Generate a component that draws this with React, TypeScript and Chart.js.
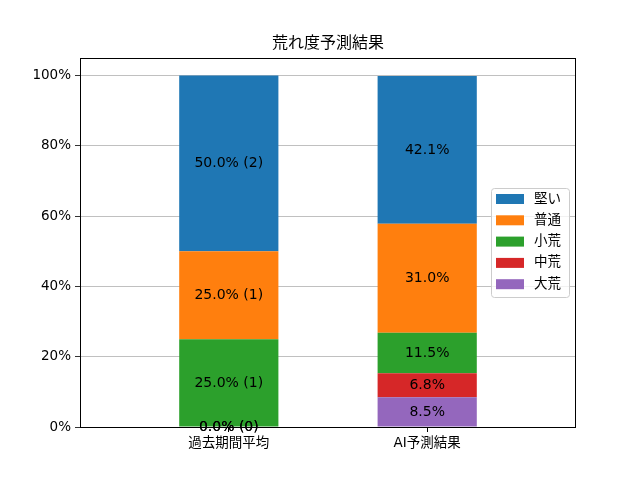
import React, { useEffect, useRef } from "react";
import Chart from "chart.js/auto";

const title = "荒れ度予測結果";
const categories = ["過去期間平均", "AI予測結果"];
// stacked bottom -> top
const seriesNames = ["大荒", "中荒", "小荒", "普通", "堅い"];
const pastValues = [0.0, 0.0, 25.0, 25.0, 50.0];
const pastCounts = [0, 0, 1, 1, 2];
const aiValues = [8.5, 6.8, 11.5, 31.0, 42.1];
const colors = ["#9467bd", "#d62728", "#2ca02c", "#ff7f0e", "#1f77b4"];
const yTicks = [0, 20, 40, 60, 80, 100];

const FONT = "'DejaVu Sans', 'Noto Sans CJK JP', sans-serif";

const overlayPlugin = {
  id: "overlay",
  afterDatasetsDraw(chart: any) {
    const ctx = chart.ctx;
    const area = chart.chartArea;
    ctx.save();

    // frame (all four spines)
    ctx.strokeStyle = "#000";
    ctx.lineWidth = 1;
    ctx.strokeRect(
      Math.round(area.left) + 0.5,
      Math.round(area.top) + 0.5,
      Math.round(area.right - area.left) - 1,
      Math.round(area.bottom - area.top)
    );

    // value labels
    ctx.fillStyle = "#000";
    ctx.font = `14px ${FONT}`;
    ctx.textAlign = "center";
    ctx.textBaseline = "middle";
    chart.data.datasets.forEach((ds: any, di: number) => {
      const meta = chart.getDatasetMeta(di);
      meta.data.forEach((el: any, i: number) => {
        const v = ds.data[i].y;
        const text =
          i === 0
            ? `${v.toFixed(1)}% (${pastCounts[di]})`
            : `${v.toFixed(1)}%`;
        const cy = (el.y + el.base) / 2;
        ctx.fillText(text, el.x, cy);
      });
    });

    // title
    ctx.font = `16px ${FONT}`;
    ctx.textBaseline = "middle";
    ctx.fillText(title, (area.left + area.right) / 2, 44);

    // legend (center right, reversed order)
    const boxW = 78;
    const boxH = 109;
    const bx = area.right - 7 - boxW;
    const by = (area.top + area.bottom) / 2 - boxH / 2;
    ctx.beginPath();
    ctx.roundRect(bx + 0.5, by + 0.5, boxW, boxH, 3);
    ctx.fillStyle = "rgba(255,255,255,0.8)";
    ctx.fill();
    ctx.strokeStyle = "#cccccc";
    ctx.stroke();
    ctx.font = `13.5px ${FONT}`;
    ctx.textAlign = "left";
    const order = [...seriesNames.keys()].reverse();
    order.forEach((si, k) => {
      const cy = by + 11 + k * 21.3;
      ctx.fillStyle = colors[si];
      ctx.fillRect(bx + 5, cy - 5, 28, 10);
      ctx.fillStyle = "#000";
      ctx.fillText(seriesNames[si], bx + 43, cy);
    });

    ctx.restore();
  },
};

const App: React.FC = () => {
  const chartRef = useRef<HTMLCanvasElement | null>(null);
  const chartInstance = useRef<Chart | null>(null);

  useEffect(() => {
    if (!chartRef.current) return;
    if (chartInstance.current) chartInstance.current.destroy();
    const ctx = chartRef.current.getContext("2d");
    if (!ctx) return;

    chartInstance.current = new Chart(ctx, {
      type: "bar",
      data: {
        datasets: seriesNames.map((name, si) => ({
          label: name,
          data: [
            { x: 0, y: pastValues[si] },
            { x: 1, y: aiValues[si] },
          ],
          backgroundColor: colors[si],
          borderWidth: 0,
          barPercentage: 0.5,
          categoryPercentage: 1,
        })),
      },
      options: {
        responsive: false,
        animation: false,
        layout: { padding: { top: 58, right: 64, left: 0, bottom: 0 } },
        plugins: {
          legend: { display: false },
          title: { display: false },
          tooltip: { enabled: false },
        },
        scales: {
          x: {
            type: "linear",
            stacked: true,
            offset: false,
            min: -0.75,
            max: 1.75,
            afterBuildTicks: (s: any) => {
              s.ticks = categories.map((_, i) => ({ value: i }));
            },
            afterFit: (s: any) => {
              s.height = 53;
            },
            border: { display: false },
            grid: {
              offset: false,
              drawOnChartArea: false,
              drawTicks: true,
              tickLength: 5,
              tickColor: "#000",
            },
            ticks: {
              color: "#000",
              padding: 3,
              maxRotation: 0,
              font: { family: FONT, size: 13.5 },
              callback: (v: any) => categories[v] ?? "",
            },
          },
          y: {
            stacked: true,
            min: 0,
            max: 105,
            afterBuildTicks: (s: any) => {
              s.ticks = yTicks.map((v) => ({ value: v }));
            },
            afterFit: (s: any) => {
              s.width = 80;
            },
            border: { display: false },
            grid: {
              color: "#b0b0b0",
              lineWidth: 0.8,
              drawTicks: true,
              tickLength: 5,
              tickColor: "#000",
            },
            ticks: {
              color: "#000",
              padding: 4,
              font: { family: FONT, size: 13.5 },
              callback: (v: any) => `${v}%`,
            },
          },
        },
      } as any,
      plugins: [overlayPlugin],
    });

    return () => {
      if (chartInstance.current) {
        chartInstance.current.destroy();
        chartInstance.current = null;
      }
    };
  }, []);

  return (
    <div
      style={{
        position: "fixed",
        left: 0,
        top: 0,
        width: 640,
        height: 480,
        background: "#fff",
      }}
    >
      <canvas ref={chartRef} width={640} height={480} />
    </div>
  );
};

export default App;
